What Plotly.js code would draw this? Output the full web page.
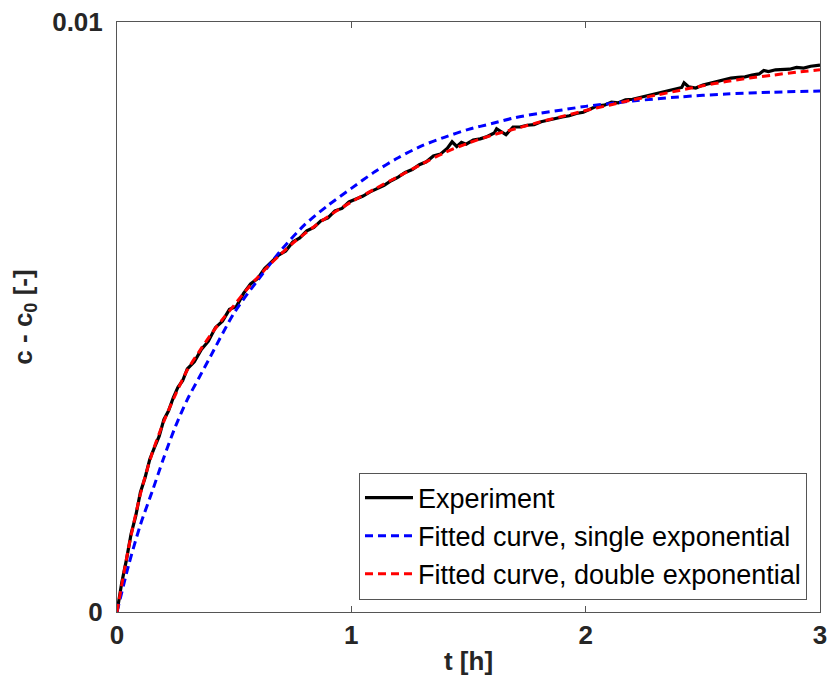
<!DOCTYPE html>
<html>
<head>
<meta charset="utf-8">
<script src="https://cdn.plot.ly/plotly-3.0.1.min.js"></script>
<style>
  html, body { margin: 0; padding: 0; background: #fff; }
  #chart { width: 828px; height: 693px; }
</style>
</head>
<body>
<div id="chart"></div>
<script>
// Measured concentration rise c - c0 over time t [h]
const expT = [0, 0.02, 0.04, 0.06, 0.08, 0.10, 0.12, 0.14, 0.16, 0.18, 0.20, 0.22, 0.24, 0.26, 0.28, 0.30,
  0.33, 0.36, 0.39, 0.42, 0.45, 0.48, 0.51, 0.54, 0.57, 0.60, 0.63, 0.66, 0.69, 0.72, 0.75, 0.78, 0.81,
  0.84, 0.87, 0.90, 0.93, 0.96, 0.99, 1.02, 1.05, 1.08, 1.11, 1.14, 1.17, 1.20, 1.23, 1.26, 1.29, 1.32,
  1.35, 1.38, 1.41, 1.43, 1.45, 1.47, 1.49, 1.52, 1.55, 1.58, 1.61, 1.62, 1.64, 1.66, 1.69, 1.72, 1.75,
  1.78, 1.81, 1.84, 1.87, 1.90, 1.93, 1.96, 1.99, 2.02, 2.05, 2.08, 2.11, 2.14, 2.17, 2.20, 2.23, 2.26,
  2.29, 2.32, 2.35, 2.38, 2.41, 2.42, 2.44, 2.47, 2.50, 2.53, 2.56, 2.59, 2.62, 2.65, 2.68, 2.71, 2.74,
  2.76, 2.78, 2.81, 2.84, 2.87, 2.90, 2.93, 2.96, 3.00];
const expC = [0.00000, 0.00049, 0.00088, 0.00132, 0.00163, 0.00203, 0.00228, 0.00259, 0.00279, 0.00298,
  0.00326, 0.00341, 0.00363, 0.00381, 0.00392, 0.00412, 0.00424, 0.00445, 0.00459, 0.00482, 0.00493,
  0.00513, 0.00518, 0.00540, 0.00556, 0.00565, 0.00582, 0.00593, 0.00605, 0.00612, 0.00627, 0.00634,
  0.00646, 0.00652, 0.00663, 0.00668, 0.00680, 0.00684, 0.00695, 0.00700, 0.00705, 0.00712, 0.00718,
  0.00723, 0.00731, 0.00737, 0.00745, 0.00750, 0.00758, 0.00763, 0.00773, 0.00776, 0.00786, 0.00797,
  0.00789, 0.00796, 0.00793, 0.00800, 0.00802, 0.00806, 0.00812, 0.00819, 0.00814, 0.00809, 0.00822,
  0.00822, 0.00825, 0.00826, 0.00831, 0.00834, 0.00836, 0.00839, 0.00841, 0.00845, 0.00847, 0.00852,
  0.00858, 0.00859, 0.00864, 0.00863, 0.00868, 0.00869, 0.00872, 0.00874, 0.00878, 0.00881, 0.00884,
  0.00886, 0.00889, 0.00897, 0.00890, 0.00888, 0.00893, 0.00896, 0.00899, 0.00903, 0.00905, 0.00906,
  0.00907, 0.00910, 0.00912, 0.00918, 0.00916, 0.00919, 0.00920, 0.00920, 0.00923, 0.00922, 0.00925,
  0.00927];

// Single exponential fit
const singleT = [0, 0.05, 0.10, 0.15, 0.20, 0.25, 0.30, 0.35, 0.40, 0.50, 0.60, 0.70, 0.80, 0.90, 1.00,
  1.10, 1.20, 1.30, 1.40, 1.50, 1.60, 1.70, 1.80, 1.90, 2.00, 2.20, 2.40, 2.60, 2.80, 3.00];
const singleC = [0, 0.00080, 0.00148, 0.00204, 0.00262, 0.00315, 0.00360, 0.00397, 0.00434, 0.00507,
  0.00562, 0.00613, 0.00656, 0.00689, 0.00718, 0.00746, 0.00770, 0.00790, 0.00805, 0.00818, 0.00828,
  0.00838, 0.00845, 0.00851, 0.00857, 0.00866, 0.00873, 0.00878, 0.00881, 0.00883];

// Double exponential fit
const doubleT = [0, 0.05, 0.10, 0.15, 0.20, 0.25, 0.30, 0.35, 0.40, 0.45, 0.50, 0.55, 0.60, 0.65, 0.70,
  0.75, 0.80, 0.85, 0.90, 0.95, 1.00, 1.10, 1.20, 1.30, 1.40, 1.50, 1.60, 1.70, 1.80, 1.90, 2.00, 2.10,
  2.20, 2.30, 2.40, 2.50, 2.60, 2.70, 2.80, 2.90, 3.00];
const doubleC = [0, 0.00110, 0.00200, 0.00269, 0.00323, 0.00369, 0.00410, 0.00441, 0.00470, 0.00496,
  0.00520, 0.00545, 0.00567, 0.00588, 0.00607, 0.00625, 0.00641, 0.00656, 0.00670, 0.00683, 0.00695,
  0.00717, 0.00738, 0.00759, 0.00779, 0.00795, 0.00808, 0.00819, 0.00830, 0.00840, 0.00850, 0.00859,
  0.00868, 0.00876, 0.00884, 0.00892, 0.00899, 0.00905, 0.00910, 0.00915, 0.00919];

const seriesNames = ['Experiment', 'Fitted curve, single exponential', 'Fitted curve, double exponential'];
const xTicks = [0, 1, 2, 3];
const yTicks = [0, 0.01];
const yTickText = ['0', '0.01'];

const FONT = '"Liberation Sans", Arial, Helvetica, sans-serif';
const AX = '#262626';

const traces = [
  { x: expT, y: expC, name: seriesNames[0], type: 'scatter', mode: 'lines',
    line: { color: '#000000', width: 3.2 } },
  { x: singleT, y: singleC, name: seriesNames[1], type: 'scatter', mode: 'lines',
    line: { color: '#0000ff', width: 3, dash: '8px,5px', shape: 'spline', smoothing: 0.8 } },
  { x: doubleT, y: doubleC, name: seriesNames[2], type: 'scatter', mode: 'lines',
    line: { color: '#ff0000', width: 3, dash: '8px,5px', shape: 'spline', smoothing: 0.8 } }
];

const axisCommon = {
  showgrid: false, zeroline: false, showline: true, linecolor: '#555555', linewidth: 1,
  mirror: 'ticks', ticks: 'inside', ticklen: 6, tickcolor: '#555555', tickwidth: 1,
  tickfont: { family: FONT, size: 26, color: AX, weight: 'bold' }
};

const layout = {
  width: 828, height: 693,
  margin: { l: 117, r: 8, t: 22, b: 81 },
  paper_bgcolor: '#ffffff', plot_bgcolor: '#ffffff',
  showlegend: true,
  xaxis: Object.assign({}, axisCommon, {
    range: [0, 3], tickvals: xTicks, ticktext: xTicks.map(String), ticklabelstandoff: 0,
    title: { text: 't [h]', font: { family: FONT, size: 26, color: AX, weight: 'bold' }, standoff: 2 }
  }),
  yaxis: Object.assign({}, axisCommon, {
    range: [0, 0.01], tickvals: yTicks, ticktext: yTickText, ticklabelstandoff: 8,
    title: { text: 'c - c<sub>0</sub> [-]', font: { family: FONT, size: 26, color: AX, weight: 'bold' }, standoff: 12 }
  }),
  legend: {
    x: 0.9815, xanchor: 'right', y: 0.021, yanchor: 'bottom',
    bgcolor: '#ffffff', bordercolor: '#555555', borderwidth: 1,
    font: { family: FONT, size: 27, color: '#000000' },
    itemwidth: 48, tracegroupgap: 0
  }
};

Plotly.newPlot('chart', traces, layout, { displayModeBar: false, staticPlot: true });
</script>
</body>
</html>
